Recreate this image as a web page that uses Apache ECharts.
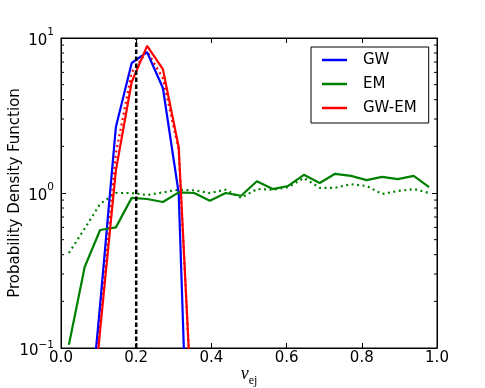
<!DOCTYPE html>
<html>
<head>
<meta charset="utf-8">
<script src="https://cdn.jsdelivr.net/npm/echarts@6/dist/echarts.min.js"></script>
<style>
html,body{margin:0;padding:0;background:#fff;}
#chart{width:485px;height:388px;}
</style>
</head>
<body>
<div id="chart"></div>
<script>
// bin centres (v_ej)
var xCenters = [0.021, 0.063, 0.104, 0.146, 0.188, 0.229, 0.271, 0.313, 0.354, 0.396, 0.438, 0.479,
                0.521, 0.563, 0.604, 0.646, 0.688, 0.729, 0.771, 0.813, 0.854, 0.896, 0.938, 0.979];
// GW (solid blue)
var gwVals = [null, 0.016, 0.19, 2.67, 6.9, 8.1, 4.76, 1.0, 0.001, null, null, null,
              null, null, null, null, null, null, null, null, null, null, null, null];
// EM (solid green)
var emVals = [0.105, 0.333, 0.577, 0.60, 0.93, 0.915, 0.875, 1.01, 1.0, 0.89, 1.0, 0.96,
              1.19, 1.06, 1.11, 1.31, 1.16, 1.33, 1.29, 1.21, 1.27, 1.23, 1.29, 1.09];
// GW-EM (solid red)
var gwemVals = [null, 0.01, 0.13, 1.4, 5.2, 8.9, 6.3, 1.98, 0.02, null, null, null,
                null, null, null, null, null, null, null, null, null, null, null, null];
// EM (dotted green)
var emDotVals = [0.41, 0.59, 0.85, 1.0, 1.0, 0.97, 1.01, 1.05, 1.04, 1.0, 1.05, 0.93,
                 1.06, 1.05, 1.09, 1.25, 1.08, 1.08, 1.14, 1.11, 0.985, 1.03, 1.06, 1.0];
// GW-EM (dotted red)
var gwemDotVals = [null, 0.01, 0.15, 1.8, 6.0, 8.2, 5.5, 1.9, 0.02, null, null, null,
                   null, null, null, null, null, null, null, null, null, null, null, null];
// vertical reference line
var refX = 0.2;
var yMin = 0.1, yMax = 10;
var xTicks = [0, 0.2, 0.4, 0.6, 0.8, 1.0];
var minorVals = [0.2, 0.3, 0.4, 0.5, 0.6, 0.7, 0.8, 0.9, 2, 3, 4, 5, 6, 7, 8, 9];

function pairs(xs, ys) {
  return xs.map(function (x, i) { return [x, ys[i]]; });
}

var FONT = 'DejaVu Sans';
var chart = echarts.init(document.getElementById('chart'), null, {renderer: 'canvas'});

var yLabelRich = {
  b: {fontSize: 15, fontFamily: FONT, color: '#000', verticalAlign: 'bottom', lineHeight: 22, padding: [0, 0, 0, 0]},
  s: {fontSize: 10.5, fontFamily: FONT, color: '#000', verticalAlign: 'top', lineHeight: 22, padding: [0, 0, 8, 0]},
  bn: {fontSize: 15, fontFamily: FONT, color: '#000', verticalAlign: 'bottom', lineHeight: 22, padding: [12, 0, 0, 0]},
  sn: {fontSize: 10.5, fontFamily: FONT, color: '#000', verticalAlign: 'top', lineHeight: 22, padding: [3, 0, 0, 0]}
};

var option = {
  animation: false,
  backgroundColor: '#fff',
  grid: {left: 61, right: 48, top: 38, bottom: 40, containLabel: false, outerBoundsMode: 'none',
    show: true, borderColor: '#000', borderWidth: 1},
  xAxis: [{
    type: 'value', min: 0, max: 1, interval: 0.2, position: 'bottom',
    axisLine: {show: true, onZero: false, lineStyle: {color: '#000', width: 1}},
    axisTick: {show: true, inside: true, length: 5, lineStyle: {color: '#000'}},
    splitLine: {show: false},
    axisLabel: {fontSize: 15, fontFamily: FONT, color: '#000', margin: 3,
      formatter: function (v) { return v.toFixed(1); }},
    name: '{v|v}{e|ej}', nameLocation: 'middle', nameGap: 17, nameMoveOverlap: false,
    nameTextStyle: {rich: {
      v: {fontFamily: 'Liberation Serif', fontStyle: 'italic', fontSize: 18, color: '#000', verticalAlign: 'top', lineHeight: 22},
      e: {fontFamily: 'Liberation Serif', fontSize: 12, color: '#000', verticalAlign: 'bottom', lineHeight: 22, padding: [6, 0, 0, 0]}
    }}
  }, {
    type: 'value', min: 0, max: 1, interval: 0.2, position: 'top',
    axisLine: {show: true, onZero: false, lineStyle: {color: '#000', width: 1}},
    axisTick: {show: true, inside: true, length: 5, lineStyle: {color: '#000'}},
    splitLine: {show: false}, axisLabel: {show: false}
  }],
  yAxis: [{
    type: 'log', logBase: 10, min: yMin, max: yMax, position: 'left',
    axisLine: {show: true, onZero: false, lineStyle: {color: '#000', width: 1}},
    axisTick: {show: true, inside: true, length: 5, lineStyle: {color: '#000'}},
    splitLine: {show: false},
    axisLabel: {margin: 7, rich: yLabelRich,
      formatter: function (v) {
        var e = Math.round(Math.log10(v));
        if (e < 0) return '{bn|10}{sn|\u2212' + (-e) + '}';
        return '{b|10}{s|' + e + '}';
      }},
    name: 'Probability Density Function', nameLocation: 'middle', nameGap: 38, nameMoveOverlap: false,
    nameTextStyle: {fontSize: 15, fontFamily: FONT, color: '#000'}
  }, {
    type: 'log', logBase: 10, min: yMin, max: yMax, position: 'right',
    axisLine: {show: true, onZero: false, lineStyle: {color: '#000', width: 1}},
    axisTick: {show: true, inside: true, length: 5, lineStyle: {color: '#000'}},
    splitLine: {show: false}, axisLabel: {show: false}
  }],
  legend: {
    show: true, orient: 'vertical', left: 311, top: 47,
    padding: [4, 12, 6, 11], itemGap: 6,
    itemWidth: 25, itemHeight: 2.5,
    borderColor: '#000', borderWidth: 1, backgroundColor: '#fff',
    textStyle: {fontSize: 15, fontFamily: FONT, color: '#000', lineHeight: 18, padding: [0, 0, 0, 11]},
    data: [{name: 'GW', icon: 'rect'}, {name: 'EM', icon: 'rect'}, {name: 'GW-EM', icon: 'rect'}]
  },
  series: [
    {name: 'EM dotted', type: 'line', data: pairs(xCenters, emDotVals), showSymbol: false, symbol: 'none',
      connectNulls: false, clip: true, lineStyle: {color: '#008000', width: 2.2, type: [2, 3.5]}, color: '#008000', z: 2},
    {name: 'GW-EM dotted', type: 'line', data: pairs(xCenters, gwemDotVals), showSymbol: false, symbol: 'none',
      clip: true, lineStyle: {color: '#ff0000', width: 2.2, type: [2, 3.5]}, color: '#ff0000', z: 2},
    {name: 'GW', type: 'line', data: pairs(xCenters, gwVals), showSymbol: false, symbol: 'none',
      clip: true, lineStyle: {color: '#0000ff', width: 2.2}, color: '#0000ff', z: 3},
    {name: 'EM', type: 'line', data: pairs(xCenters, emVals), showSymbol: false, symbol: 'none',
      clip: true, lineStyle: {color: '#008000', width: 2.2}, color: '#008000', z: 3},
    {name: 'GW-EM', type: 'line', data: pairs(xCenters, gwemVals), showSymbol: false, symbol: 'none',
      clip: true, lineStyle: {color: '#ff0000', width: 2.2}, color: '#ff0000', z: 3},
    {name: 'ref', type: 'line', data: [[refX, yMin], [refX, yMax]], showSymbol: false, symbol: 'none',
      clip: true, lineStyle: {color: '#000', width: 2.5, type: [4.5, 2.5]}, color: '#000', z: 4},
    {name: 'minor', type: 'custom', clip: false, z: 5,
      data: minorVals.map(function (v) { return [0, v]; }),
      renderItem: function (params, api) {
        var v = api.value(1);
        var pl = api.coord([0, v]);
        var pr = api.coord([1, v]);
        return {type: 'group', children: [
          {type: 'line', shape: {x1: pl[0], y1: pl[1], x2: pl[0] + 3, y2: pl[1]}, style: {stroke: '#000', lineWidth: 1}},
          {type: 'line', shape: {x1: pr[0] - 3, y1: pr[1], x2: pr[0], y2: pr[1]}, style: {stroke: '#000', lineWidth: 1}}
        ]};
      }}
  ]
};
chart.setOption(option);
</script>
</body>
</html>
